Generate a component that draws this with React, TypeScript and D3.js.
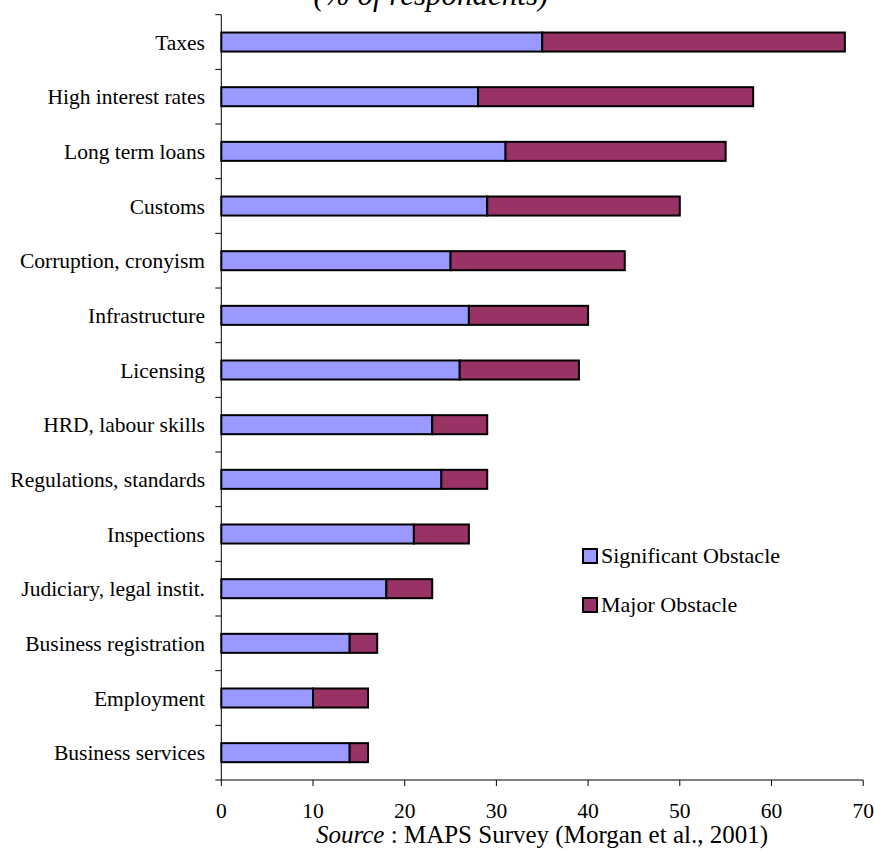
import React from 'react';
import * as d3 from 'd3';

// Obstacles to business, share of respondents by severity
const categories = [
  'Taxes',
  'High interest rates',
  'Long term loans',
  'Customs',
  'Corruption, cronyism',
  'Infrastructure',
  'Licensing',
  'HRD, labour skills',
  'Regulations, standards',
  'Inspections',
  'Judiciary, legal instit.',
  'Business registration',
  'Employment',
  'Business services',
];
const significant = [35, 28, 31, 29, 25, 27, 26, 23, 24, 21, 18, 14, 10, 14];
const major = [33, 30, 24, 21, 19, 13, 13, 6, 5, 6, 5, 3, 6, 2];
const seriesKeys = ['significant', 'major'];
const seriesNames = ['Significant Obstacle', 'Major Obstacle'];
const seriesColors = ['#9999FF', '#993366'];
const xTicks = [0, 10, 20, 30, 40, 50, 60, 70];
const subtitle = '(% of respondents)';
const sourceLabel = 'Source';
const sourceText = ' : MAPS Survey (Morgan et al., 2001)';

const W = 874;
const H = 852;
const FONT = '"Liberation Serif", "Times New Roman", Times, serif';

export default function App() {
  const plot = { left: 221.3, right: 863.2, top: 14.7, bottom: 780 };

  const rows = categories.map((c, i) => ({
    category: c,
    significant: significant[i],
    major: major[i],
  }));

  const stacked = d3.stack<any>().keys(seriesKeys)(rows);

  const x = d3.scaleLinear().domain([0, 70]).range([plot.left, plot.right]);
  const y = d3
    .scaleBand<string>()
    .domain(categories)
    .range([plot.top, plot.bottom])
    .paddingInner(0.652)
    .paddingOuter(0.326);

  const step = y.step();
  const boundaries = d3.range(categories.length + 1).map((k) => plot.top + k * step);

  const legendX = 583;
  const legendY = [549, 598];

  return (
    <div style={{ position: 'absolute', left: 0, top: 0 }}>
      <svg width={W} height={H} style={{ display: 'block', background: '#fff' }} fontFamily={FONT}>
        <rect x={0} y={0} width={W} height={H} fill="#fff" />

        <text
          x={431}
          y={5}
          textAnchor="middle"
          fontSize={31}
          fontStyle="italic"
          fill="#000"
        >
          {subtitle}
        </text>

        {/* y axis */}
        <line x1={plot.left} x2={plot.left} y1={plot.top} y2={plot.bottom} stroke="#000" strokeWidth={1} />
        {boundaries.map((b, i) => (
          <line key={'yt' + i} x1={plot.left - 6} x2={plot.left} y1={b} y2={b} stroke="#000" strokeWidth={1} />
        ))}
        {categories.map((c) => (
          <text
            key={'yl' + c}
            x={205}
            y={(y(c) as number) + y.bandwidth() / 2}
            dy="0.35em"
            textAnchor="end"
            fontSize={21.5}
            fill="#000"
          >
            {c}
          </text>
        ))}

        {/* x axis */}
        <line x1={plot.left} x2={plot.right} y1={plot.bottom} y2={plot.bottom} stroke="#000" strokeWidth={1} />
        {xTicks.map((t) => (
          <g key={'xt' + t}>
            <line x1={x(t)} x2={x(t)} y1={plot.bottom} y2={plot.bottom + 6} stroke="#000" strokeWidth={1} />
            <text x={x(t)} y={818} textAnchor="middle" fontSize={21.5} fill="#000">
              {t}
            </text>
          </g>
        ))}

        {/* bars */}
        {stacked.map((s, si) => (
          <g key={s.key}>
            {s.map((d, i) => (
              <rect
                key={i}
                x={x(d[0])}
                y={y(categories[i]) as number}
                width={x(d[1]) - x(d[0])}
                height={y.bandwidth()}
                fill={seriesColors[si]}
                stroke="#000"
                strokeWidth={2}
              />
            ))}
          </g>
        ))}

        {/* legend */}
        {seriesNames.map((n, i) => (
          <g key={'lg' + i}>
            <rect
              x={legendX}
              y={legendY[i]}
              width={14}
              height={14}
              fill={seriesColors[i]}
              stroke="#000"
              strokeWidth={2}
            />
            <text x={601} y={legendY[i] + 14} fontSize={22} fill="#000">
              {n}
            </text>
          </g>
        ))}

        {/* source note */}
        <text x={542} y={843} textAnchor="middle" fontSize={25} fill="#000">
          <tspan fontStyle="italic">{sourceLabel}</tspan>
          {sourceText}
        </text>
      </svg>
    </div>
  );
}
